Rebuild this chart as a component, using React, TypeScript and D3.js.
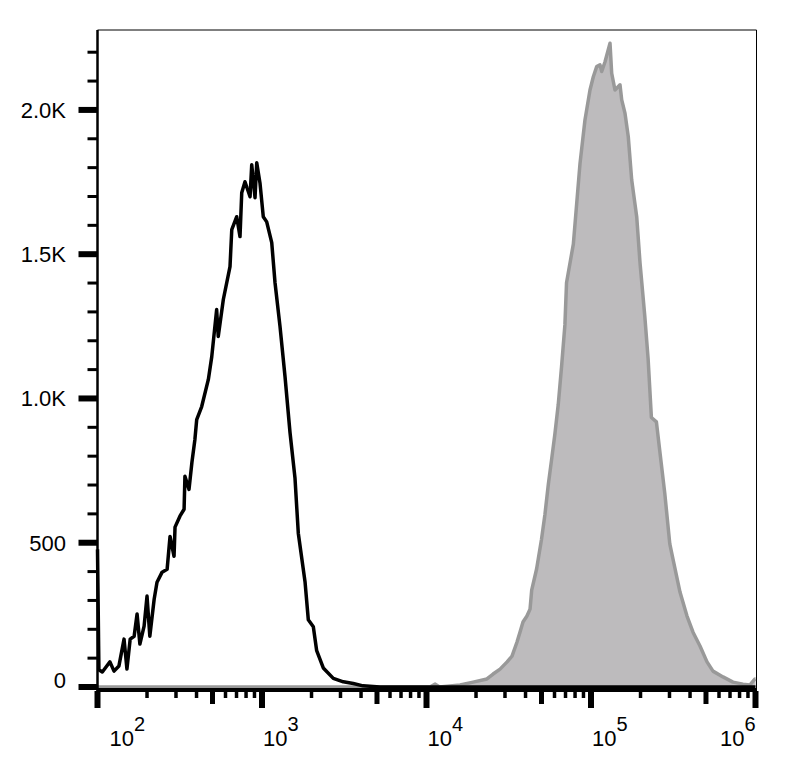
import * as React from "react";
import * as d3 from "d3";

// open black histogram (control)
const controlX = [
  100, 102, 107, 113, 119, 126, 135, 145, 151, 158, 167, 174, 181, 192, 200,
  208, 221, 230, 247, 265, 276, 292, 296, 317, 336, 340, 360, 375, 391, 401,
  430, 472, 495, 530, 542, 582, 639, 655, 702, 735, 753, 788, 846, 866, 907,
  929, 972, 1018, 1068, 1146, 1200, 1287, 1380, 1480, 1587, 1662, 1826, 1912,
  2051, 2150, 2358, 2713, 3121, 3589, 4111, 5212, 1000000,
];
const controlCount = [
  477, 60, 52, 70, 87, 55, 73, 166, 62, 166, 176, 253, 149, 211, 315, 176, 304,
  363, 398, 408, 522, 453, 554, 592, 616, 730, 685, 779, 858, 927, 972, 1066,
  1145, 1308, 1215, 1343, 1457, 1585, 1630, 1561, 1713, 1751, 1699, 1810, 1696,
  1817, 1747, 1630, 1612, 1540, 1401, 1249, 1076, 882, 724, 533, 365, 233, 209,
  126, 66, 30, 18, 12, 4, 0, 0,
];

// filled gray histogram (stained)
const stainedX = [
  100, 10500, 11300, 12000, 16000, 19200, 23300, 25400, 28000, 30900, 33100,
  35500, 37000, 38600, 40800, 42600, 43600, 46700, 50000, 52500, 55000, 57600,
  60300, 63200, 66200, 69400, 71000, 78100, 85700, 91900, 98600, 103300,
  108300, 113400, 116200, 121700, 130500, 133600, 139900, 150100, 153700,
  161000, 168500, 176800, 189600, 198600, 212400, 222400, 232900, 249800,
  262000, 280900, 301300, 315100, 347500, 383300, 417000, 459800, 507300,
  551500, 634400, 729900, 839500, 926000, 993100, 1000000,
];
const stainedCount = [
  0, 0, 10, 0, 7, 17, 28, 45, 62, 87, 107, 156, 190, 225, 246, 270, 336, 409,
  511, 599, 701, 788, 876, 978, 1109, 1255, 1401, 1535, 1813, 1965, 2069, 2115,
  2150, 2156, 2133, 2167, 2231, 2127, 2069, 2087, 2035, 1988, 1907, 1757, 1630,
  1470, 1284, 1138, 934, 919, 817, 671, 496, 443, 329, 246, 190, 142, 87, 55,
  35, 17, 10, 7, 28, 28,
];

const yMajorTicks = [0, 500, 1000, 1500, 2000];
const yMajorLabels = ["0", "500", "1.0K", "1.5K", "2.0K"];
const decades = [100, 1000, 10000, 100000, 1000000];
const decadeExponents = ["2", "3", "4", "5", "6"];

interface Bin {
  x: number;
  n: number;
}

function drawChart(svgRef: React.RefObject<SVGSVGElement>) {
  const svg = d3.select(svgRef.current);
  svg.selectAll("*").remove();

  const left = 97.5;
  const right = 755.5;
  const top = 30;
  const bottom = 687;

  const xScale = d3.scaleLog().domain([100, 1000000]).range([left, right]);
  const yScale = d3.scaleLinear().domain([0, 2277]).range([bottom, top]);

  const control: Bin[] = controlX.map((x, i) => ({ x, n: controlCount[i] }));
  const stained: Bin[] = stainedX.map((x, i) => ({ x, n: stainedCount[i] }));

  const line = d3
    .line<Bin>()
    .x((d) => xScale(d.x))
    .y((d) => yScale(d.n));

  const area = d3
    .area<Bin>()
    .x((d) => xScale(d.x))
    .y0(yScale(0))
    .y1((d) => yScale(d.n));

  // frame (thin top / right)
  svg
    .append("path")
    .attr("d", `M${left},${top}H${right + 1}V${bottom + 3}`)
    .attr("fill", "none")
    .attr("stroke", "#000")
    .attr("stroke-width", 1);

  // stained histogram
  svg
    .append("path")
    .attr("d", area(stained))
    .attr("fill", "#bdbbbd")
    .attr("stroke", "none");
  svg
    .append("path")
    .attr("d", line(stained))
    .attr("fill", "none")
    .attr("stroke", "#999999")
    .attr("stroke-width", 3.5)
    .attr("stroke-linejoin", "round");

  // control histogram
  svg
    .append("path")
    .attr("d", line(control))
    .attr("fill", "none")
    .attr("stroke", "#000")
    .attr("stroke-width", 3.5)
    .attr("stroke-linejoin", "round");

  // axis lines
  svg
    .append("line")
    .attr("x1", left)
    .attr("x2", left)
    .attr("y1", top)
    .attr("y2", bottom + 5)
    .attr("stroke", "#000")
    .attr("stroke-width", 2.5);
  svg
    .append("line")
    .attr("x1", left - 1)
    .attr("x2", right + 1.5)
    .attr("y1", bottom + 3)
    .attr("y2", bottom + 3)
    .attr("stroke", "#000")
    .attr("stroke-width", 4);

  // y ticks
  const yMinor = d3.range(100, 2300, 100).filter((v) => v % 500 !== 0);
  svg
    .append("g")
    .selectAll("line")
    .data(yMinor)
    .enter()
    .append("line")
    .attr("x1", left - 10)
    .attr("x2", left)
    .attr("y1", (d) => yScale(d))
    .attr("y2", (d) => yScale(d))
    .attr("stroke", "#000")
    .attr("stroke-width", 3);
  svg
    .append("g")
    .selectAll("line")
    .data(yMajorTicks)
    .enter()
    .append("line")
    .attr("x1", left - 19)
    .attr("x2", left)
    .attr("y1", (d) => yScale(d))
    .attr("y2", (d) => yScale(d))
    .attr("stroke", "#000")
    .attr("stroke-width", 6);

  svg
    .append("g")
    .attr("font-family", '"Liberation Sans", Arial, sans-serif')
    .attr("font-size", 22)
    .attr("fill", "#000")
    .selectAll("text")
    .data(yMajorTicks)
    .enter()
    .append("text")
    .attr("x", 66)
    .attr("y", (d) => yScale(d) + (d === 0 ? -7 : 0))
    .attr("dy", "0.36em")
    .attr("text-anchor", "end")
    .text((_d, i) => yMajorLabels[i]);

  // x ticks (log)
  const xMinor: number[] = [];
  decades.slice(0, -1).forEach((dec) => {
    for (let k = 2; k <= 9; k++) xMinor.push(dec * k);
  });
  const tickY = bottom + 5;
  svg
    .append("g")
    .selectAll("line")
    .data(xMinor)
    .enter()
    .append("line")
    .attr("x1", (d) => xScale(d))
    .attr("x2", (d) => xScale(d))
    .attr("y1", tickY - 1)
    .attr("y2", (d) => (String(d)[0] === "5" ? tickY + 12 : tickY + 6))
    .attr("stroke", "#000")
    .attr("stroke-width", (d) => (String(d)[0] === "5" ? 5 : 3.5));
  svg
    .append("g")
    .selectAll("line")
    .data(decades)
    .enter()
    .append("line")
    .attr("x1", (d) => xScale(d))
    .attr("x2", (d) => xScale(d))
    .attr("y1", tickY - 1)
    .attr("y2", tickY + 16)
    .attr("stroke", "#000")
    .attr("stroke-width", 6);

  const xLabels = svg
    .append("g")
    .attr("font-family", '"Liberation Sans", Arial, sans-serif')
    .attr("fill", "#000")
    .selectAll("text")
    .data(decades)
    .enter()
    .append("text")
    .attr("x", (d, i) =>
      i === 0 ? xScale(d) + 12 : i === decades.length - 1 ? xScale(d) : xScale(d) + 1
    )
    .attr("y", 746)
    .attr("font-size", 22)
    .attr("text-anchor", (_d, i) => (i === decades.length - 1 ? "end" : "start"));
  xLabels.append("tspan").text("10");
  xLabels
    .append("tspan")
    .attr("dy", -15)
    .attr("font-size", 20)
    .text((_d, i) => decadeExponents[i]);
}

export default function App() {
  const svg = React.useRef<SVGSVGElement>(null);
  React.useEffect(() => {
    drawChart(svg);
  }, [svg]);

  return (
    <svg
      ref={svg}
      width={792}
      height={772}
      style={{ position: "absolute", left: 0, top: 0, background: "#fff" }}
    />
  );
}
